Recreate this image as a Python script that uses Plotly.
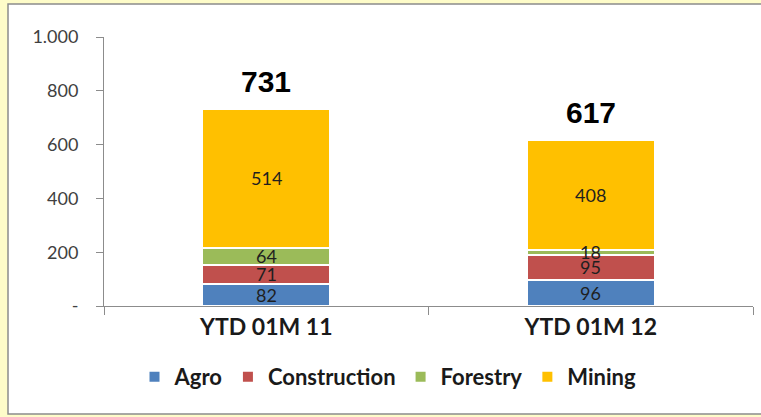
import plotly.graph_objects as go

categories = ["YTD 01M 11", "YTD 01M 12"]
agro = [82, 96]
construction = [71, 95]
forestry = [64, 18]
mining = [514, 408]
totals = [731, 617]
series_names = ["Agro", "Construction", "Forestry", "Mining"]
series_values = [agro, construction, forestry, mining]
colors = ["#4F81BD", "#C0504D", "#9BBB59", "#FFC000"]
ytick_vals = [0, 200, 400, 600, 800, 1000]
ytick_text = ["-", "200", "400", "600", "800", "1.000"]

W, H = 761, 417
ml, mr, mt, mb = 104, 8, 37, 111
pw, ph = W - ml - mr, H - mt - mb

def px_x(x):
    return (x - ml) / pw

def px_y(y):
    return (H - mb - y) / ph

fig = go.Figure()
for name, vals, col in zip(series_names, series_values, colors):
    fig.add_trace(go.Bar(
        x=categories, y=vals, name=name,
        marker=dict(color=col, line=dict(color="white", width=2)),
        width=0.395,
    ))

# segment labels (midpoints of stacked segments)
for i, c in enumerate(categories):
    base = 0
    for vals in series_values:
        v = vals[i]
        fig.add_annotation(x=c, y=base + v / 2, text=str(v), showarrow=False,
                           yanchor="middle",
                           font=dict(family="Lato", size=18, color="#1f1f1f"))
        base += v

for c, t in zip(categories, totals):
    fig.add_annotation(x=c, y=t, text=str(t), showarrow=False,
                       yanchor="bottom", yshift=9,
                       font=dict(family="Liberation Sans", size=30, color="black", weight="bold"))

fig.add_shape(type="rect", xref="paper", yref="paper",
              x0=px_x(8), x1=px_x(775), y0=px_y(414), y1=px_y(4),
              fillcolor="white", line=dict(color="#8C8C8C", width=1.5), layer="below")

fig.update_layout(
    width=W, height=H,
    margin=dict(l=ml, r=mr, t=mt, b=mb, pad=0, autoexpand=False),
    paper_bgcolor="#FEFCC9", plot_bgcolor="rgba(0,0,0,0)",
    barmode="stack", bargap=0.6,
    showlegend=True,
    legend=dict(orientation="h", x=px_x(388), xanchor="center", y=px_y(377), yanchor="middle",
                font=dict(family="Lato", size=22, color="#1a1a1a", weight="bold"),
                bgcolor="rgba(0,0,0,0)", itemwidth=30, traceorder="normal"),
    xaxis=dict(showline=True, linecolor="#8C8C8C", linewidth=1, ticks="outside",
               tickson="boundaries", ticklen=8, tickcolor="#8C8C8C",
               tickfont=dict(family="Lato", size=23, color="#1a1a1a", weight="bold"),
               showgrid=False),
    yaxis=dict(range=[0, 1000], showline=True, linecolor="#8C8C8C", linewidth=1,
               ticks="outside", ticklen=7, tickcolor="#8C8C8C", ticklabelstandoff=14,
               tickvals=ytick_vals, ticktext=ytick_text,
               tickfont=dict(family="Lato", size=18, color="#404040"),
               showgrid=False, zeroline=False),
)

fig.write_html("out.html", config={"displayModeBar": False},
               post_script="document.body.style.margin='0px';")
